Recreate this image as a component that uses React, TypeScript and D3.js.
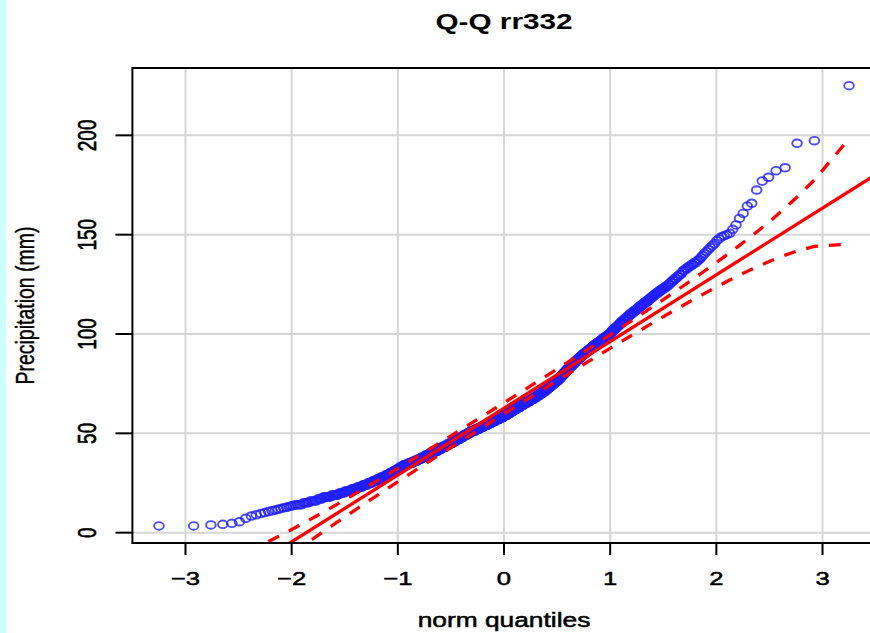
import React from 'react';
import * as d3 from 'd3';

const W = 870;
const H = 633;

// Sorted precipitation sample (mm).
// Lowest observations, one by one
const lowTail = [3.4, 3.4, 3.9, 4.2, 4.7, 5.5, 7.2, 8.4, 9.0, 9.6, 10.1, 10.6, 11.0, 11.4, 11.8, 12.2, 12.5, 12.8, 13.1, 13.4, 13.7];
// Dense middle of the sample: number of observations at each whole mm value
const midMm = [
  14, 15, 16, 17, 18, 19, 20, 21, 22, 23, 24, 25, 26, 27, 28, 29, 30, 31, 32, 33,
  34, 35, 36, 37, 38, 39, 40, 41, 42, 43, 44, 45, 46, 47, 48, 49, 50, 51, 52, 53,
  54, 55, 56, 57, 58, 59, 60, 61, 62, 63, 64, 65, 66, 67, 68, 69, 70, 71, 72, 73,
  74, 75, 76, 77, 78, 79, 80, 81, 82, 83, 84, 85, 86, 87, 88, 89, 90, 91, 92, 93,
  94, 95, 96, 97, 98, 99, 100, 101, 102, 103, 104, 105, 106, 107, 108, 109, 110, 111, 112, 113,
  114, 115, 116, 117, 118, 119, 120, 121, 122, 123, 124, 125, 126, 127, 128, 129, 130, 131, 132, 133,
  134, 135, 136, 137,
];
const midCounts = [
  4, 4, 5, 4, 7, 7, 6, 7, 7, 7, 7, 7, 7, 7, 7, 7, 7, 7, 6, 7,
  10, 11, 10, 10, 10, 10, 10, 11, 10, 11, 10, 11, 10, 11, 10, 11, 11, 14, 13, 13,
  14, 13, 13, 13, 12, 11, 11, 10, 11, 11, 10, 11, 11, 11, 10, 9, 9, 9, 7, 7,
  7, 7, 7, 6, 5, 5, 5, 5, 5, 5, 6, 5, 5, 6, 6, 5, 6, 6, 6, 5,
  6, 6, 6, 5, 6, 6, 4, 3, 4, 4, 4, 3, 4, 4, 4, 3, 4, 4, 4, 3,
  4, 3, 4, 3, 3, 3, 3, 3, 3, 3, 3, 2, 2, 2, 2, 2, 2, 1, 2, 2,
  2, 2, 2, 1,
];
// Highest observations, one by one
const highTail = [137.5, 138.5, 139.5, 140.5, 141.5, 142.5, 143.5, 144.5, 145.5, 147, 148, 149, 149.5, 150, 150.7, 152.7, 154.9, 158.2, 160.7, 164.4, 165.8, 172.5, 177, 178.9, 182.2, 183.7, 196, 197.3, 225];

const xTicks = [-3, -2, -1, 0, 1, 2, 3];
const yTicks = [0, 50, 100, 150, 200];
const xDomain = [-3.5, 3.5];
const yDomain = [-5.2, 233.9];

// Reference line (through the quartiles) and 95% pointwise envelope
const fitSlope = 33.6;
const fitIntercept = 62.6;
const confZ = 1.959964;

const titleText = 'Q-Q rr332';
const xLabel = 'norm quantiles';
const yLabel = 'Precipitation (mm)';

function qnorm(p: number): number {
  const a = [-3.969683028665376e1, 2.209460984245205e2, -2.759285104469687e2, 1.38357751867269e2, -3.066479806614716e1, 2.506628277459239];
  const b = [-5.447609879822406e1, 1.615858368580409e2, -1.556989798598866e2, 6.680131188771972e1, -1.328068155288572e1];
  const c = [-7.784894002430293e-3, -3.223964580411365e-1, -2.400758277161838, -2.549732539343734, 4.374664141464968, 2.938163982698783];
  const d = [7.784695709041462e-3, 3.224671290700398e-1, 2.445134137142996, 3.754408661907416];
  const plow = 0.02425;
  if (p < plow) {
    const q = Math.sqrt(-2 * Math.log(p));
    return (((((c[0] * q + c[1]) * q + c[2]) * q + c[3]) * q + c[4]) * q + c[5]) / ((((d[0] * q + d[1]) * q + d[2]) * q + d[3]) * q + 1);
  }
  if (p <= 1 - plow) {
    const q = p - 0.5;
    const r = q * q;
    return ((((((a[0] * r + a[1]) * r + a[2]) * r + a[3]) * r + a[4]) * r + a[5]) * q) / (((((b[0] * r + b[1]) * r + b[2]) * r + b[3]) * r + b[4]) * r + 1);
  }
  const q = Math.sqrt(-2 * Math.log(1 - p));
  return -(((((c[0] * q + c[1]) * q + c[2]) * q + c[3]) * q + c[4]) * q + c[5]) / ((((d[0] * q + d[1]) * q + d[2]) * q + d[3]) * q + 1);
}
const dnorm = (z: number) => Math.exp(-0.5 * z * z) / Math.sqrt(2 * Math.PI);

export default function App() {
  const sample: number[] = [...lowTail];
  midMm.forEach((v, k) => {
    for (let j = 0; j < midCounts[k]; j++) sample.push(v);
  });
  sample.push(...highTail);
  sample.sort((p, q) => p - q);
  const n = sample.length;

  const pts = sample.map((y, i) => {
    const P = (i + 0.5) / n;
    const z = qnorm(P);
    const fit = fitIntercept + fitSlope * z;
    const se = (fitSlope / dnorm(z)) * Math.sqrt((P * (1 - P)) / n);
    return { z, y, upper: fit + confZ * se, lower: fit - confZ * se };
  });

  const left = 132.4;
  const right = 875.6;
  const top = 68;
  const bottom = 543;
  const x = d3.scaleLinear().domain(xDomain).range([left, right]);
  const y = d3.scaleLinear().domain(yDomain).range([bottom, top]);

  const upperLine = d3.line<any>().x((d) => x(d.z)).y((d) => y(d.upper))(pts) || '';
  const lowerLine = d3.line<any>().x((d) => x(d.z)).y((d) => y(d.lower))(pts) || '';

  const sx = 1.35;
  const font = '"Liberation Sans", Arial, Helvetica, sans-serif';

  return (
    <svg width={W} height={H} style={{ position: 'absolute', left: 0, top: 0, background: '#fff' }} fontFamily={font}>
      <defs>
        <clipPath id="plotClip">
          <rect x={left} y={top} width={right - left} height={bottom - top} />
        </clipPath>
      </defs>
      <rect x={0} y={0} width={W} height={H} fill="#fff" />
      <rect x={0} y={0} width={6} height={H} fill="#ccffff" />

      {/* grid */}
      <g stroke="#d6d6d6" strokeWidth={2}>
        {xTicks.map((t) => (
          <line key={'gx' + t} x1={x(t)} x2={x(t)} y1={top} y2={bottom} />
        ))}
        {yTicks.map((t) => (
          <line key={'gy' + t} x1={left} x2={right} y1={y(t)} y2={y(t)} />
        ))}
      </g>

      {/* points */}
      <g clipPath="url(#plotClip)" fill="none" stroke="#1f1fff" strokeOpacity={0.8} strokeWidth={1.9}>
        {pts.map((p, i) => (
          <ellipse key={i} cx={x(p.z)} cy={y(p.y)} rx={4.8} ry={3.8} />
        ))}
      </g>

      {/* reference line and envelope */}
      <g clipPath="url(#plotClip)" fill="none" stroke="#ff0000" strokeWidth={3.3}>
        <line x1={x(xDomain[0])} y1={y(fitIntercept + fitSlope * xDomain[0])} x2={x(xDomain[1])} y2={y(fitIntercept + fitSlope * xDomain[1])} />
        <path d={upperLine} strokeDasharray="12 11" />
        <path d={lowerLine} strokeDasharray="12 11" />
      </g>

      {/* box */}
      <rect x={left} y={top} width={right - left} height={bottom - top} fill="none" stroke="#000" strokeWidth={2} />

      {/* ticks */}
      <g stroke="#000" strokeWidth={2}>
        {xTicks.map((t) => (
          <line key={'tx' + t} x1={x(t)} x2={x(t)} y1={bottom} y2={bottom + 12} />
        ))}
        {yTicks.map((t) => (
          <line key={'ty' + t} x1={left - 17} x2={left} y1={y(t)} y2={y(t)} />
        ))}
      </g>
      <g fontSize={19} fill="#000" stroke="#000" strokeWidth={0.5} textAnchor="middle">
        {xTicks.map((t) => (
          <text key={'lx' + t} transform={`translate(${x(t)},585) scale(${sx},1)`}>
            {t < 0 ? '\u2212' + Math.abs(t) : String(t)}
          </text>
        ))}
        {yTicks.map((t) => (
          <text key={'ly' + t} transform={`translate(96,${y(t)}) scale(${sx},1) rotate(-90)`}>
            {String(t)}
          </text>
        ))}
      </g>

      <text transform={`translate(${(left + right) / 2},29) scale(${sx},1)`} textAnchor="middle" fontWeight="bold" fontSize={22} fill="#000">
        {titleText}
      </text>
      <text transform={`translate(${(left + right) / 2},627) scale(${sx},1)`} textAnchor="middle" fontSize={19.5} fill="#000" stroke="#000" strokeWidth={0.5}>
        {xLabel}
      </text>
      <text transform={`translate(34,${(top + bottom) / 2}) scale(${sx},1) rotate(-90)`} textAnchor="middle" fontSize={19.5} fill="#000" stroke="#000" strokeWidth={0.3}>
        {yLabel}
      </text>
    </svg>
  );
}
